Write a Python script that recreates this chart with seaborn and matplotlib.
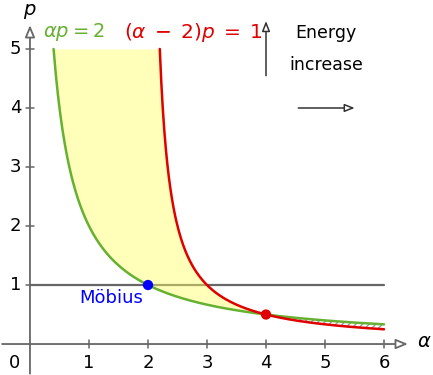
import numpy as np
import pandas as pd
import matplotlib
matplotlib.use("Agg")
import matplotlib.pyplot as plt
import seaborn as sns

# curve constants: alpha*p = 2 and (alpha-2)*p = 1
green_const = 2.0
red_shift = 2.0
red_const = 1.0
p_top = 5.0
alpha_end = 6.0

# marked points
mobius_pt = (2.0, 1.0)
cross_pt = (4.0, 0.5)

x_ticks = [1, 2, 3, 4, 5, 6]
y_ticks = [1, 2, 3, 4, 5]

green_col = "#66b032"
red_col = "#e00000"
gray_col = "#666666"

sns.set_theme(style="white")
plt.rcParams["font.family"] = ["DejaVu Sans"]
plt.rcParams["mathtext.fontset"] = "dejavusans"
plt.rcParams["text.color"] = "black"

fig = plt.figure(figsize=(4.33, 3.75), dpi=100)
ax = fig.add_axes([0, 0, 1, 1])
ax.set_xlim(-0.508, 6.83)
ax.set_ylim(-0.525, 5.83)
for s in ax.spines.values():
    s.set_visible(False)
ax.set_xticks([])
ax.set_yticks([])

# curves
a_green = np.linspace(green_const / p_top, alpha_end, 300)
a_red = np.linspace(red_shift + red_const / p_top, alpha_end, 300)
green_df = pd.DataFrame({"alpha": a_green, "p": green_const / a_green})
red_df = pd.DataFrame({"alpha": a_red, "p": red_const / (a_red - red_shift)})

# horizontal p = 1 line and axes
ax.plot([0, alpha_end], [1, 1], color=gray_col, lw=1.6, zorder=1)
ax.annotate("", xy=(6.45, 0), xytext=(-0.52, 0),
            arrowprops=dict(arrowstyle="-|>,head_length=0.6,head_width=0.25", color=gray_col,
                            lw=1.3, fc="white"), zorder=1)
ax.annotate("", xy=(0, 5.45), xytext=(0, -0.55),
            arrowprops=dict(arrowstyle="-|>,head_length=0.6,head_width=0.25", color=gray_col,
                            lw=1.3, fc="white"), zorder=1)
for t in x_ticks:
    ax.plot([t, t], [-0.06, 0.06], color=gray_col, lw=1.1)
    ax.text(t, -0.17, str(t), ha="center", va="top", fontsize=13)
for t in y_ticks:
    ax.plot([-0.06, 0.06], [t, t], color=gray_col, lw=1.1)
    ax.text(-0.15, t, str(t), ha="right", va="center", fontsize=13)
ax.text(-0.17, -0.17, "0", ha="right", va="top", fontsize=13)
ax.text(6.56, 0.05, r"$\alpha$", ha="left", va="center", fontsize=14)
ax.text(0.0, 5.64, r"$p$", ha="center", va="center", fontsize=14)

# yellow region between the curves (p from 0.5 to 5)
pp = np.linspace(cross_pt[1], p_top, 300)
ax.fill_betweenx(pp, green_const / pp, red_shift + red_const / pp,
                 color="#ffff66", alpha=0.45, lw=0, zorder=2)

# hatched region past alpha = 4
aa = np.linspace(cross_pt[0], alpha_end, 200)
ax.fill_between(aa, red_const / (aa - red_shift), green_const / aa,
                facecolor="none", edgecolor="#999999", hatch="/////", lw=0, zorder=2)

sns.lineplot(data=green_df, x="alpha", y="p", color=green_col, lw=1.8, ax=ax,
             sort=False, zorder=3)
sns.lineplot(data=red_df, x="alpha", y="p", color=red_col, lw=1.8, ax=ax,
             sort=False, zorder=3)
ax.set_xlabel("")
ax.set_ylabel("")

sns.scatterplot(x=[mobius_pt[0]], y=[mobius_pt[1]], color="#0000ff", s=55,
                edgecolor="none", ax=ax, zorder=4)
sns.scatterplot(x=[cross_pt[0]], y=[cross_pt[1]], color=red_col, s=55,
                edgecolor="none", ax=ax, zorder=4)
ax.text(1.37, 0.78, "Möbius", color="#0000ff", ha="center", va="center", fontsize=13)

# curve labels
ax.text(0.22, 5.28, r"$\alpha p = 2$", color=green_col, ha="left", va="center", fontsize=14)
ax.text(1.6, 5.28, r"$(\alpha\;-\;2)p\;=\;1$", color=red_col, ha="left", va="center", fontsize=14.5)

# energy increase arrows
ax.annotate("", xy=(4.0, 5.52), xytext=(4.0, 4.5),
            arrowprops=dict(arrowstyle="-|>,head_length=0.5,head_width=0.2", color="#333333",
                            lw=1.1, fc="white"))
ax.annotate("", xy=(5.55, 4.0), xytext=(4.5, 4.0),
            arrowprops=dict(arrowstyle="-|>,head_length=0.5,head_width=0.2", color="#333333",
                            lw=1.1, fc="white"))
ax.text(5.02, 5.27, "Energy", ha="center", va="center", fontsize=12.5)
ax.text(5.02, 4.73, "increase", ha="center", va="center", fontsize=12.5)

fig.savefig("out.png", dpi=100)
